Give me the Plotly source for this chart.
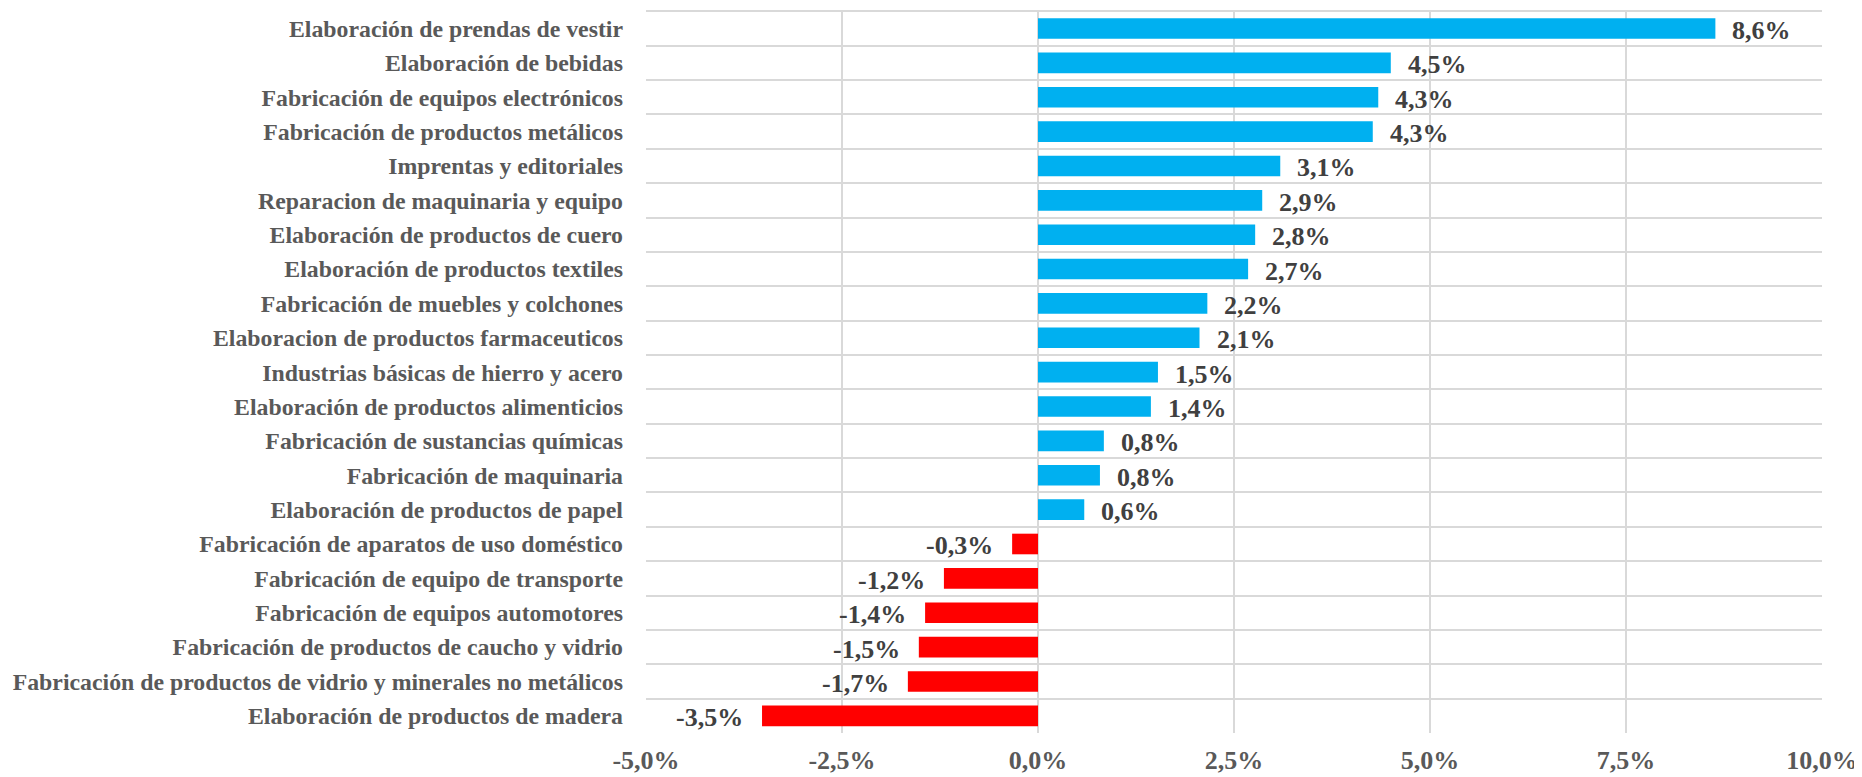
import plotly.graph_objects as go

categories = [
    "Elaboración de prendas de vestir",
    "Elaboración de bebidas",
    "Fabricación de equipos electrónicos",
    "Fabricación de productos metálicos",
    "Imprentas y editoriales",
    "Reparacion de maquinaria y equipo",
    "Elaboración de productos de cuero",
    "Elaboración de productos textiles",
    "Fabricación de muebles y colchones",
    "Elaboracion de productos farmaceuticos",
    "Industrias básicas de hierro y acero",
    "Elaboración de productos alimenticios",
    "Fabricación de sustancias químicas",
    "Fabricación de maquinaria",
    "Elaboración de productos de papel",
    "Fabricación de aparatos de uso doméstico",
    "Fabricación de equipo de transporte",
    "Fabricación de equipos automotores",
    "Fabricación de productos de caucho y vidrio",
    "Fabricación de productos de vidrio y minerales no metálicos",
    "Elaboración de productos de madera",
]
values = [8.64, 4.50, 4.34, 4.27, 3.09, 2.86, 2.77, 2.68, 2.16, 2.06, 1.53,
          1.44, 0.84, 0.79, 0.59, -0.33, -1.20, -1.44, -1.52, -1.66, -3.52]
x_ticks = [-5.0, -2.5, 0.0, 2.5, 5.0, 7.5, 10.0]
x_tick_labels = ["-5,0%", "-2,5%", "0,0%", "2,5%", "5,0%", "7,5%", "10,0%"]

POS = "#00B0F0"
NEG = "#FF0000"
FONT = "Liberation Serif, Times New Roman, serif"

colors = [POS if v >= 0 else NEG for v in values]

fig = go.Figure()
fig.add_trace(go.Bar(
    y=categories, x=values, orientation="h",
    marker=dict(color=colors, line=dict(width=0)),
    hoverinfo="x+y",
))

for c, v in zip(categories, values):
    fig.add_annotation(
        x=v, y=c, xref="x", yref="y",
        text=f"{v:.1f}%".replace(".", ","),
        showarrow=False,
        xanchor="left" if v >= 0 else "right",
        xshift=15 if v >= 0 else -17,
        yshift=-2,
        font=dict(family=FONT, size=26, color="#404040", weight="bold"),
    )

fig.update_layout(
    width=1862, height=777,
    margin=dict(l=638, r=48, t=2, b=52),
    paper_bgcolor="white", plot_bgcolor="white",
    bargap=0.4,
    showlegend=False,
)
fig.update_xaxes(
    range=[-5, 10], tickvals=x_ticks, ticktext=x_tick_labels,
    showgrid=True, gridcolor="#d9d9d9", gridwidth=1.5,
    zeroline=False, showline=False, automargin=False,
    ticks="outside", ticklen=4, tickcolor="rgba(0,0,0,0)",
    tickfont=dict(family=FONT, size=26, color="#595959", weight="bold"),
)
fig.update_yaxes(
    autorange="reversed", type="category", automargin=False,
    tickson="boundaries", showgrid=True, gridcolor="#d9d9d9", gridwidth=1.5,
    showline=False, zeroline=False,
    ticks="", ticklabelstandoff=22,
    tickfont=dict(family=FONT, size=23.8, color="#595959", weight="bold"),
)

fig.write_html("out.html")
